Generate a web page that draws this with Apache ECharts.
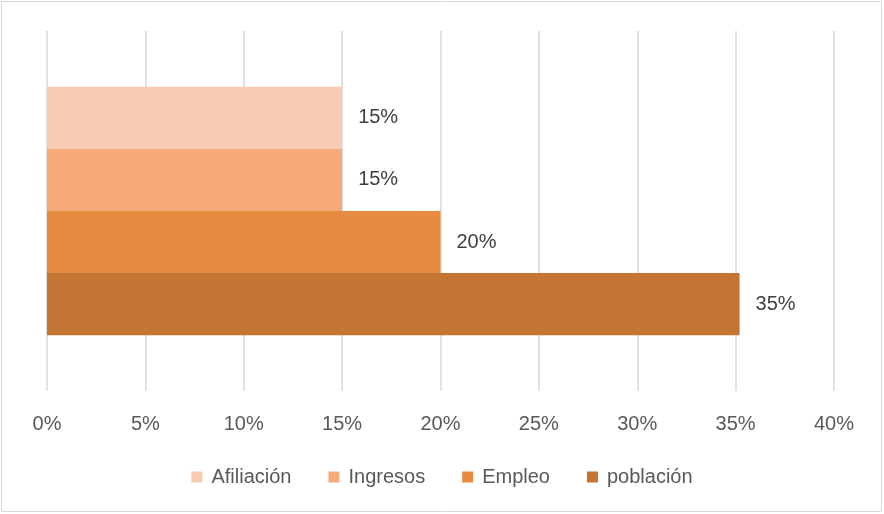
<!DOCTYPE html>
<html><head><meta charset="utf-8">
<script src="https://cdn.jsdelivr.net/npm/echarts@6/dist/echarts.min.js"></script>
<style>html,body{margin:0;padding:0;background:#fff}#c{width:884px;height:514px}</style>
</head><body><div id="c"></div>
<script>
const categories = [''];
const seriesNames = ['Afiliación', 'Ingresos', 'Empleo', 'población'];
const afiliacion = [15];
const ingresos = [15];
const empleo = [20];
const poblacion = [35.2];
const xTicks = [0, 5, 10, 15, 20, 25, 30, 35, 40];
const colors = ['#F8CBB3', '#F6AA7A', '#E78B40', '#C47533'];
const values = [afiliacion, ingresos, empleo, poblacion];

const chart = echarts.init(document.getElementById('c'));
const font = 'Liberation Sans, Arial, sans-serif';
const series = seriesNames.map((n, i) => ({
  name: n, type: 'bar', data: values[i], barGap: '0%', barCategoryGap: '31%',
  itemStyle: { color: colors[i] },
  label: { show: true, position: 'right', distance: 16, color: '#404040', fontSize: 20, fontFamily: font,
    formatter: p => Math.round(p.value) + '%' }
}));
chart.setOption({
  animation: false,
  graphic: [{ type: 'rect', shape: { x: 1.5, y: 1.5, width: 880, height: 510 }, style: { fill: 'none', stroke: '#D9D9D9', lineWidth: 1 } }],
  legend: { data: seriesNames, bottom: 22, itemWidth: 11, itemHeight: 11, itemGap: 37, icon: 'rect',
    textStyle: { color: '#595959', fontSize: 20, fontFamily: font, padding: [0, 0, 0, 4] } },
  grid: { left: 47, right: 50, top: 31, bottom: 123 },
  xAxis: { type: 'value', min: xTicks[0], max: xTicks[xTicks.length - 1], interval: 5,
    axisLine: { show: false }, axisTick: { show: false },
    splitLine: { lineStyle: { color: '#D9D9D9', width: 1.5 } },
    axisLabel: { margin: 23, color: '#595959', fontSize: 20, fontFamily: font, formatter: v => v + '%' } },
  yAxis: { type: 'category', data: categories, inverse: true, axisLine: { show: false }, axisTick: { show: false }, axisLabel: { show: false } },
  series: series
});
</script></body></html>
